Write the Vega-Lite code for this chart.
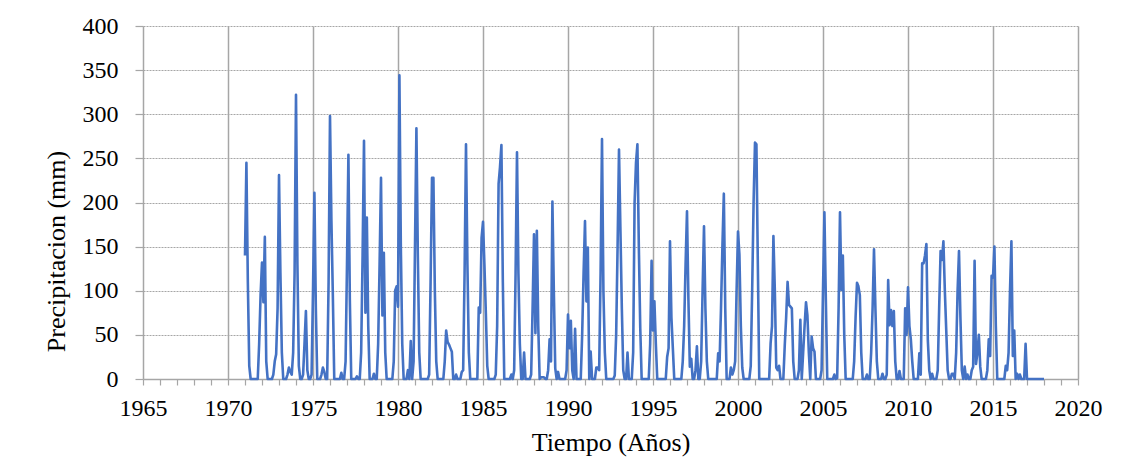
{
"$schema": "https://vega.github.io/schema/vega-lite/v6.json",
"width": 935, "height": 353,
"autosize": {"type": "none"},
"padding": {"left": 143, "top": 26, "right": 46, "bottom": 80},
"background": "white",
"config": {"view": {"stroke": null}, "font": "Liberation Serif",
  "axis": {"labelFont": "Liberation Serif", "titleFont": "Liberation Serif"}},
"data": {"values": [
{"t":1971,"p":140},{"t":1971.083,"p":245},{"t":1971.167,"p":110},{"t":1971.25,"p":15},{"t":1971.333,"p":0},{"t":1971.417,"p":0},{"t":1971.5,"p":0},{"t":1971.583,"p":0},{"t":1971.667,"p":0},{"t":1971.75,"p":0},{"t":1971.833,"p":40},{"t":1971.917,"p":95},
{"t":1972,"p":132},{"t":1972.083,"p":87},{"t":1972.167,"p":161},{"t":1972.25,"p":20},{"t":1972.333,"p":0},{"t":1972.417,"p":0},{"t":1972.5,"p":0},{"t":1972.583,"p":0},{"t":1972.667,"p":5},{"t":1972.75,"p":20},{"t":1972.833,"p":28},{"t":1972.917,"p":80},
{"t":1973,"p":231},{"t":1973.083,"p":120},{"t":1973.167,"p":30},{"t":1973.25,"p":0},{"t":1973.333,"p":0},{"t":1973.417,"p":0},{"t":1973.5,"p":5},{"t":1973.583,"p":13},{"t":1973.667,"p":8},{"t":1973.75,"p":5},{"t":1973.833,"p":30},{"t":1973.917,"p":120},
{"t":1974,"p":322},{"t":1974.083,"p":130},{"t":1974.167,"p":15},{"t":1974.25,"p":0},{"t":1974.333,"p":0},{"t":1974.417,"p":5},{"t":1974.5,"p":40},{"t":1974.583,"p":77},{"t":1974.667,"p":10},{"t":1974.75,"p":0},{"t":1974.833,"p":0},{"t":1974.917,"p":5},
{"t":1975,"p":100},{"t":1975.083,"p":211},{"t":1975.167,"p":80},{"t":1975.25,"p":0},{"t":1975.333,"p":0},{"t":1975.417,"p":0},{"t":1975.5,"p":5},{"t":1975.583,"p":13},{"t":1975.667,"p":8},{"t":1975.75,"p":0},{"t":1975.833,"p":0},{"t":1975.917,"p":110},
{"t":1976,"p":298},{"t":1976.083,"p":180},{"t":1976.167,"p":95},{"t":1976.25,"p":0},{"t":1976.333,"p":0},{"t":1976.417,"p":0},{"t":1976.5,"p":0},{"t":1976.583,"p":0},{"t":1976.667,"p":7},{"t":1976.75,"p":0},{"t":1976.833,"p":0},{"t":1976.917,"p":20},
{"t":1977,"p":130},{"t":1977.083,"p":254},{"t":1977.167,"p":90},{"t":1977.25,"p":0},{"t":1977.333,"p":0},{"t":1977.417,"p":0},{"t":1977.5,"p":0},{"t":1977.583,"p":3},{"t":1977.667,"p":0},{"t":1977.75,"p":0},{"t":1977.833,"p":30},{"t":1977.917,"p":140},
{"t":1978,"p":270},{"t":1978.083,"p":75},{"t":1978.167,"p":183},{"t":1978.25,"p":60},{"t":1978.333,"p":0},{"t":1978.417,"p":0},{"t":1978.5,"p":0},{"t":1978.583,"p":6},{"t":1978.667,"p":0},{"t":1978.75,"p":0},{"t":1978.833,"p":40},{"t":1978.917,"p":130},
{"t":1979,"p":228},{"t":1979.083,"p":72},{"t":1979.167,"p":143},{"t":1979.25,"p":30},{"t":1979.333,"p":0},{"t":1979.417,"p":0},{"t":1979.5,"p":0},{"t":1979.583,"p":0},{"t":1979.667,"p":0},{"t":1979.75,"p":20},{"t":1979.833,"p":100},{"t":1979.917,"p":105},
{"t":1980,"p":82},{"t":1980.083,"p":344},{"t":1980.167,"p":150},{"t":1980.25,"p":40},{"t":1980.333,"p":0},{"t":1980.417,"p":0},{"t":1980.5,"p":0},{"t":1980.583,"p":10},{"t":1980.667,"p":0},{"t":1980.75,"p":43},{"t":1980.833,"p":0},{"t":1980.917,"p":20},
{"t":1981,"p":150},{"t":1981.083,"p":284},{"t":1981.167,"p":140},{"t":1981.25,"p":30},{"t":1981.333,"p":0},{"t":1981.417,"p":0},{"t":1981.5,"p":0},{"t":1981.583,"p":0},{"t":1981.667,"p":0},{"t":1981.75,"p":0},{"t":1981.833,"p":5},{"t":1981.917,"p":110},
{"t":1982,"p":228},{"t":1982.083,"p":228},{"t":1982.167,"p":100},{"t":1982.25,"p":20},{"t":1982.333,"p":0},{"t":1982.417,"p":0},{"t":1982.5,"p":0},{"t":1982.583,"p":0},{"t":1982.667,"p":0},{"t":1982.75,"p":20},{"t":1982.833,"p":55},{"t":1982.917,"p":42},
{"t":1983,"p":39},{"t":1983.083,"p":35},{"t":1983.167,"p":31},{"t":1983.25,"p":0},{"t":1983.333,"p":0},{"t":1983.417,"p":5},{"t":1983.5,"p":0},{"t":1983.583,"p":0},{"t":1983.667,"p":0},{"t":1983.75,"p":8},{"t":1983.833,"p":10},{"t":1983.917,"p":120},
{"t":1984,"p":266},{"t":1984.083,"p":130},{"t":1984.167,"p":30},{"t":1984.25,"p":0},{"t":1984.333,"p":0},{"t":1984.417,"p":0},{"t":1984.5,"p":0},{"t":1984.583,"p":0},{"t":1984.667,"p":0},{"t":1984.75,"p":81},{"t":1984.833,"p":75},{"t":1984.917,"p":160},
{"t":1985,"p":178},{"t":1985.083,"p":130},{"t":1985.167,"p":75},{"t":1985.25,"p":15},{"t":1985.333,"p":0},{"t":1985.417,"p":0},{"t":1985.5,"p":0},{"t":1985.583,"p":0},{"t":1985.667,"p":0},{"t":1985.75,"p":5},{"t":1985.833,"p":60},{"t":1985.917,"p":221},
{"t":1986,"p":240},{"t":1986.083,"p":265},{"t":1986.167,"p":110},{"t":1986.25,"p":0},{"t":1986.333,"p":0},{"t":1986.417,"p":0},{"t":1986.5,"p":0},{"t":1986.583,"p":0},{"t":1986.667,"p":5},{"t":1986.75,"p":0},{"t":1986.833,"p":10},{"t":1986.917,"p":120},
{"t":1987,"p":257},{"t":1987.083,"p":120},{"t":1987.167,"p":40},{"t":1987.25,"p":0},{"t":1987.333,"p":0},{"t":1987.417,"p":30},{"t":1987.5,"p":0},{"t":1987.583,"p":0},{"t":1987.667,"p":0},{"t":1987.75,"p":0},{"t":1987.833,"p":5},{"t":1987.917,"p":80},
{"t":1988,"p":164},{"t":1988.083,"p":52},{"t":1988.167,"p":168},{"t":1988.25,"p":60},{"t":1988.333,"p":0},{"t":1988.417,"p":2},{"t":1988.5,"p":2},{"t":1988.583,"p":2},{"t":1988.667,"p":0},{"t":1988.75,"p":0},{"t":1988.833,"p":10},{"t":1988.917,"p":45},
{"t":1989,"p":20},{"t":1989.083,"p":201},{"t":1989.167,"p":100},{"t":1989.25,"p":12},{"t":1989.333,"p":0},{"t":1989.417,"p":8},{"t":1989.5,"p":0},{"t":1989.583,"p":0},{"t":1989.667,"p":0},{"t":1989.75,"p":0},{"t":1989.833,"p":0},{"t":1989.917,"p":10},
{"t":1990,"p":73},{"t":1990.083,"p":35},{"t":1990.167,"p":66},{"t":1990.25,"p":10},{"t":1990.333,"p":0},{"t":1990.417,"p":57},{"t":1990.5,"p":0},{"t":1990.583,"p":0},{"t":1990.667,"p":0},{"t":1990.75,"p":0},{"t":1990.833,"p":50},{"t":1990.917,"p":120},
{"t":1991,"p":179},{"t":1991.083,"p":88},{"t":1991.167,"p":149},{"t":1991.25,"p":0},{"t":1991.333,"p":31},{"t":1991.417,"p":0},{"t":1991.5,"p":0},{"t":1991.583,"p":0},{"t":1991.667,"p":13},{"t":1991.75,"p":13},{"t":1991.833,"p":10},{"t":1991.917,"p":120},
{"t":1992,"p":272},{"t":1992.083,"p":100},{"t":1992.167,"p":30},{"t":1992.25,"p":0},{"t":1992.333,"p":0},{"t":1992.417,"p":0},{"t":1992.5,"p":0},{"t":1992.583,"p":0},{"t":1992.667,"p":0},{"t":1992.75,"p":4},{"t":1992.833,"p":50},{"t":1992.917,"p":150},
{"t":1993,"p":260},{"t":1993.083,"p":170},{"t":1993.167,"p":80},{"t":1993.25,"p":10},{"t":1993.333,"p":0},{"t":1993.417,"p":0},{"t":1993.5,"p":30},{"t":1993.583,"p":0},{"t":1993.667,"p":0},{"t":1993.75,"p":0},{"t":1993.833,"p":30},{"t":1993.917,"p":200},
{"t":1994,"p":245},{"t":1994.083,"p":266},{"t":1994.167,"p":150},{"t":1994.25,"p":58},{"t":1994.333,"p":0},{"t":1994.417,"p":0},{"t":1994.5,"p":0},{"t":1994.583,"p":0},{"t":1994.667,"p":0},{"t":1994.75,"p":0},{"t":1994.833,"p":40},{"t":1994.917,"p":134},
{"t":1995,"p":55},{"t":1995.083,"p":88},{"t":1995.167,"p":40},{"t":1995.25,"p":0},{"t":1995.333,"p":0},{"t":1995.417,"p":0},{"t":1995.5,"p":0},{"t":1995.583,"p":0},{"t":1995.667,"p":0},{"t":1995.75,"p":0},{"t":1995.833,"p":25},{"t":1995.917,"p":35},
{"t":1996,"p":156},{"t":1996.083,"p":70},{"t":1996.167,"p":35},{"t":1996.25,"p":0},{"t":1996.333,"p":0},{"t":1996.417,"p":0},{"t":1996.5,"p":0},{"t":1996.583,"p":0},{"t":1996.667,"p":0},{"t":1996.75,"p":20},{"t":1996.833,"p":60},{"t":1996.917,"p":130},
{"t":1997,"p":190},{"t":1997.083,"p":90},{"t":1997.167,"p":14},{"t":1997.25,"p":23},{"t":1997.333,"p":0},{"t":1997.417,"p":0},{"t":1997.5,"p":10},{"t":1997.583,"p":37},{"t":1997.667,"p":0},{"t":1997.75,"p":0},{"t":1997.833,"p":20},{"t":1997.917,"p":100},
{"t":1998,"p":173},{"t":1998.083,"p":80},{"t":1998.167,"p":20},{"t":1998.25,"p":0},{"t":1998.333,"p":0},{"t":1998.417,"p":0},{"t":1998.5,"p":0},{"t":1998.583,"p":0},{"t":1998.667,"p":0},{"t":1998.75,"p":0},{"t":1998.833,"p":29},{"t":1998.917,"p":20},
{"t":1999,"p":80},{"t":1999.083,"p":150},{"t":1999.167,"p":210},{"t":1999.25,"p":80},{"t":1999.333,"p":0},{"t":1999.417,"p":0},{"t":1999.5,"p":0},{"t":1999.583,"p":13},{"t":1999.667,"p":5},{"t":1999.75,"p":10},{"t":1999.833,"p":20},{"t":1999.917,"p":100},
{"t":2000,"p":167},{"t":2000.083,"p":141},{"t":2000.167,"p":60},{"t":2000.25,"p":13},{"t":2000.333,"p":0},{"t":2000.417,"p":0},{"t":2000.5,"p":0},{"t":2000.583,"p":0},{"t":2000.667,"p":0},{"t":2000.75,"p":15},{"t":2000.833,"p":100},{"t":2000.917,"p":200},
{"t":2001,"p":268},{"t":2001.083,"p":266},{"t":2001.167,"p":130},{"t":2001.25,"p":0},{"t":2001.333,"p":0},{"t":2001.417,"p":0},{"t":2001.5,"p":0},{"t":2001.583,"p":0},{"t":2001.667,"p":0},{"t":2001.75,"p":0},{"t":2001.833,"p":0},{"t":2001.917,"p":40},
{"t":2002,"p":60},{"t":2002.083,"p":162},{"t":2002.167,"p":100},{"t":2002.25,"p":13},{"t":2002.333,"p":10},{"t":2002.417,"p":15},{"t":2002.5,"p":0},{"t":2002.583,"p":0},{"t":2002.667,"p":0},{"t":2002.75,"p":38},{"t":2002.833,"p":70},{"t":2002.917,"p":110},
{"t":2003,"p":84},{"t":2003.083,"p":82},{"t":2003.167,"p":80},{"t":2003.25,"p":20},{"t":2003.333,"p":0},{"t":2003.417,"p":0},{"t":2003.5,"p":0},{"t":2003.583,"p":10},{"t":2003.667,"p":67},{"t":2003.75,"p":0},{"t":2003.833,"p":30},{"t":2003.917,"p":60},
{"t":2004,"p":87},{"t":2004.083,"p":72},{"t":2004.167,"p":30},{"t":2004.25,"p":0},{"t":2004.333,"p":48},{"t":2004.417,"p":35},{"t":2004.5,"p":31},{"t":2004.583,"p":0},{"t":2004.667,"p":0},{"t":2004.75,"p":0},{"t":2004.833,"p":0},{"t":2004.917,"p":10},
{"t":2005,"p":100},{"t":2005.083,"p":189},{"t":2005.167,"p":90},{"t":2005.25,"p":0},{"t":2005.333,"p":0},{"t":2005.417,"p":0},{"t":2005.5,"p":0},{"t":2005.583,"p":0},{"t":2005.667,"p":5},{"t":2005.75,"p":0},{"t":2005.833,"p":1},{"t":2005.917,"p":80},
{"t":2006,"p":189},{"t":2006.083,"p":101},{"t":2006.167,"p":140},{"t":2006.25,"p":50},{"t":2006.333,"p":0},{"t":2006.417,"p":0},{"t":2006.5,"p":0},{"t":2006.583,"p":0},{"t":2006.667,"p":0},{"t":2006.75,"p":0},{"t":2006.833,"p":20},{"t":2006.917,"p":70},
{"t":2007,"p":109},{"t":2007.083,"p":105},{"t":2007.167,"p":95},{"t":2007.25,"p":30},{"t":2007.333,"p":0},{"t":2007.417,"p":0},{"t":2007.5,"p":0},{"t":2007.583,"p":5},{"t":2007.667,"p":0},{"t":2007.75,"p":0},{"t":2007.833,"p":30},{"t":2007.917,"p":80},
{"t":2008,"p":147},{"t":2008.083,"p":80},{"t":2008.167,"p":20},{"t":2008.25,"p":0},{"t":2008.333,"p":0},{"t":2008.417,"p":0},{"t":2008.5,"p":6},{"t":2008.583,"p":0},{"t":2008.667,"p":0},{"t":2008.75,"p":5},{"t":2008.833,"p":112},{"t":2008.917,"p":61},
{"t":2009,"p":78},{"t":2009.083,"p":60},{"t":2009.167,"p":77},{"t":2009.25,"p":20},{"t":2009.333,"p":0},{"t":2009.417,"p":0},{"t":2009.5,"p":9},{"t":2009.583,"p":0},{"t":2009.667,"p":0},{"t":2009.75,"p":0},{"t":2009.833,"p":80},{"t":2009.917,"p":50},
{"t":2010,"p":104},{"t":2010.083,"p":60},{"t":2010.167,"p":45},{"t":2010.25,"p":20},{"t":2010.333,"p":0},{"t":2010.417,"p":0},{"t":2010.5,"p":0},{"t":2010.583,"p":0},{"t":2010.667,"p":29},{"t":2010.75,"p":5},{"t":2010.833,"p":131},{"t":2010.917,"p":131},
{"t":2011,"p":140},{"t":2011.083,"p":153},{"t":2011.167,"p":44},{"t":2011.25,"p":10},{"t":2011.333,"p":0},{"t":2011.417,"p":6},{"t":2011.5,"p":0},{"t":2011.583,"p":0},{"t":2011.667,"p":0},{"t":2011.75,"p":10},{"t":2011.833,"p":80},{"t":2011.917,"p":145},
{"t":2012,"p":135},{"t":2012.083,"p":156},{"t":2012.167,"p":100},{"t":2012.25,"p":55},{"t":2012.333,"p":10},{"t":2012.417,"p":0},{"t":2012.5,"p":0},{"t":2012.583,"p":6},{"t":2012.667,"p":6},{"t":2012.75,"p":0},{"t":2012.833,"p":30},{"t":2012.917,"p":100},
{"t":2013,"p":145},{"t":2013.083,"p":70},{"t":2013.167,"p":10},{"t":2013.25,"p":0},{"t":2013.333,"p":14},{"t":2013.417,"p":0},{"t":2013.5,"p":5},{"t":2013.583,"p":0},{"t":2013.667,"p":0},{"t":2013.75,"p":10},{"t":2013.833,"p":14},{"t":2013.917,"p":134},
{"t":2014,"p":17},{"t":2014.083,"p":30},{"t":2014.167,"p":50},{"t":2014.25,"p":14},{"t":2014.333,"p":0},{"t":2014.417,"p":0},{"t":2014.5,"p":0},{"t":2014.583,"p":0},{"t":2014.667,"p":10},{"t":2014.75,"p":45},{"t":2014.833,"p":26},{"t":2014.917,"p":117},
{"t":2015,"p":115},{"t":2015.083,"p":150},{"t":2015.167,"p":60},{"t":2015.25,"p":0},{"t":2015.333,"p":0},{"t":2015.417,"p":0},{"t":2015.5,"p":0},{"t":2015.583,"p":0},{"t":2015.667,"p":0},{"t":2015.75,"p":15},{"t":2015.833,"p":10},{"t":2015.917,"p":30},
{"t":2016,"p":100},{"t":2016.083,"p":156},{"t":2016.167,"p":26},{"t":2016.25,"p":55},{"t":2016.333,"p":0},{"t":2016.417,"p":6},{"t":2016.5,"p":0},{"t":2016.583,"p":5},{"t":2016.667,"p":0},{"t":2016.75,"p":0},{"t":2016.833,"p":0},{"t":2016.917,"p":40},
{"t":2017,"p":0},{"t":2017.083,"p":0},{"t":2017.167,"p":0},{"t":2017.25,"p":0},{"t":2017.333,"p":0},{"t":2017.417,"p":0},{"t":2017.5,"p":0},{"t":2017.583,"p":0},{"t":2017.667,"p":0},{"t":2017.75,"p":0},{"t":2017.833,"p":0},{"t":2017.917,"p":0},
{"t":2018,"p":0}
]},
"mark": {"type": "line", "color": "#4472C4", "strokeWidth": 2.6, "strokeJoin": "round"},
"encoding": {
  "x": {"field": "t", "type": "quantitative",
    "scale": {"domain": [1965, 2020], "nice": false, "zero": false},
    "axis": {"title": "Tiempo (Años)",
      "values": [1965,1966,1967,1968,1969,1970,1971,1972,1973,1974,1975,1976,1977,1978,1979,1980,1981,1982,1983,1984,1985,1986,1987,1988,1989,1990,1991,1992,1993,1994,1995,1996,1997,1998,1999,2000,2001,2002,2003,2004,2005,2006,2007,2008,2009,2010,2011,2012,2013,2014,2015,2016,2017,2018,2019,2020],
      "labelExpr": "datum.value % 5 === 0 ? format(datum.value, 'd') : ''",
      "labelFont": "Liberation Serif", "labelFontSize": 24, "labelColor": "black", "labelPadding": 11, "labelFlush": false, "labelOverlap": false,
      "grid": true, "gridColor": "#A6A6A6", "gridWidth": 1.5,
      "gridOpacity": {"condition": {"test": "datum.value % 5 === 0 && datum.value > 1965", "value": 1}, "value": 0},
      "domainColor": "#A6A6A6", "domainWidth": 1.5, "tickColor": "#A6A6A6", "tickSize": 6, "tickWidth": 1.2,
      "titleFont": "Liberation Serif", "titleFontSize": 26, "titleFontWeight": "normal", "titleColor": "black", "titleY": 71, "titleBaseline": "alphabetic"}},
  "y": {"field": "p", "type": "quantitative",
    "scale": {"domain": [0, 400], "nice": false},
    "axis": {"title": "Precipitacion (mm)", "values": [0,50,100,150,200,250,300,350,400],
      "labelFont": "Liberation Serif", "labelFontSize": 24, "labelColor": "black", "labelPadding": 17,
      "grid": true, "gridColor": "#A6A6A6", "gridDash": [2, 1], "gridWidth": 1,
      "domainColor": "#A6A6A6", "domainWidth": 1.5, "tickColor": "#A6A6A6", "tickSize": 8, "tickWidth": 1.2,
      "titleFont": "Liberation Serif", "titleFontSize": 26, "titleFontWeight": "normal", "titleColor": "black", "titleX": -87, "titleY": 225, "titleBaseline": "middle", "titleAngle": -90}}
}
}
